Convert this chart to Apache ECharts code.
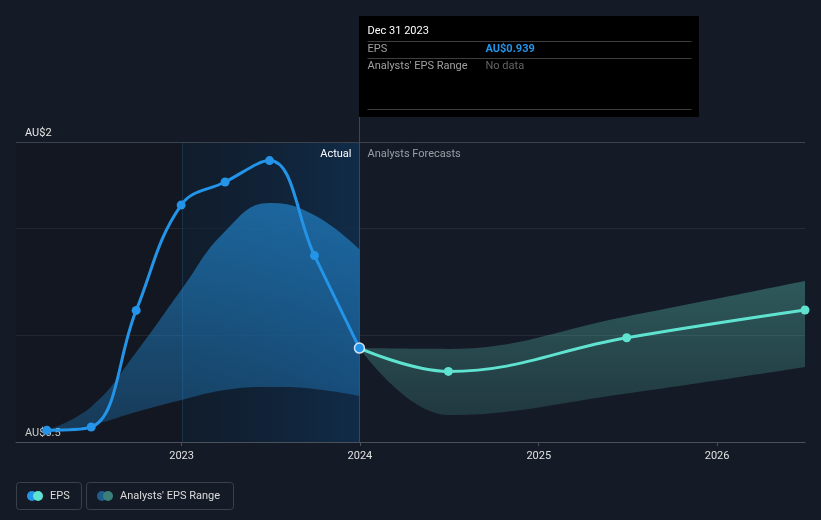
<!DOCTYPE html>
<html>
<head>
<meta charset="utf-8">
<script src="https://cdn.jsdelivr.net/npm/echarts@6/dist/echarts.min.js"></script>
<style>
html,body{margin:0;padding:0;background:#151b26;}
#chart{width:821px;height:520px;}
</style>
</head>
<body>
<div id="chart"></div>
<script>
(function () {
// ---- data ----
const actualDates = ['2022-03-31','2022-06-30','2022-09-30','2022-12-31','2023-03-31','2023-06-30','2023-09-30','2023-12-31'];
const actualEps = [0.555, 0.570, 1.115, 1.607, 1.715, 1.815, 1.371, 0.939];
const pastRangeLow = [0.555, 0.580, 0.640, 0.696, 0.743, 0.757, 0.748, 0.715];
const pastRangeHigh = [0.555, 0.665, 0.920, 1.210, 1.485, 1.617, 1.560, 1.400];
const forecastDates = ['2023-12-31','2024-06-30','2025-06-30','2026-06-30'];
const forecastEps = [0.939, 0.830, 0.987, 1.117];
const forecastLow = [0.939, 0.626, 0.727, 0.850];
const forecastHigh = [0.939, 0.935, 1.087, 1.252];
const yTickValues = [0.5, 1.902];
const yTickLabels = ['AU$0.5','AU$2'];
const xRange = ['2022-01-27','2026-06-30'];
const tooltipDate = 'Dec 31 2023';
const tooltipEps = 'AU$0.939';

const pd = s => Date.UTC(+s.slice(0,4), +s.slice(5,7) - 1, +s.slice(8,10));
const pairs = (d, v) => d.map((x, i) => [pd(x), v[i]]);
const diff = (d, hi, lo) => d.map((x, i) => [pd(x), +(hi[i] - lo[i]).toFixed(4)]);
const YEAR = 365 * 24 * 3600 * 1000;

const FONT = 'Roboto, "Noto Sans", sans-serif';
const BLUE = '#2394e8';
const AQUA = '#5fe3d0';

const chart = echarts.init(document.getElementById('chart'), null, {renderer: 'canvas', useUTC: true});

chart.setOption({
  useUTC: true,
  backgroundColor: '#151b26',
  animation: false,
  grid: {left: 16, right: 16, top: 142, bottom: 78, containLabel: false},
  xAxis: {
    type: 'time',
    min: pd(xRange[0]),
    max: pd(xRange[1]),
    minInterval: YEAR,
    axisLine: {lineStyle: {color: '#4b515b', width: 1}},
    axisTick: {show: true, length: 4, lineStyle: {color: '#4b515b'}},
    axisLabel: {
      color: '#e0e0e0', fontSize: 11, fontFamily: FONT, margin: 9,
      formatter: '{yyyy}', showMinLabel: false, showMaxLabel: false
    },
    splitLine: {show: false}
  },
  yAxis: {
    type: 'value',
    min: 0.5,
    max: 1.902,
    interval: 0.5,
    axisLine: {show: false},
    axisTick: {show: false},
    splitLine: {show: true, lineStyle: {color: '#262c36', width: 1}},
    axisLabel: {
      inside: true,
      customValues: yTickValues,
      color: '#e6e6e6', fontSize: 11, fontFamily: FONT,
      align: 'left', verticalAlign: 'bottom', margin: 9,
      padding: [0, 0, 3, 0],
      formatter: v => yTickLabels[yTickValues.indexOf(v)] || ''
    }
  },
  series: [
    {
      type: 'line', data: [], silent: true,
      markArea: {
        silent: true,
        data: [
          [{xAxis: pd(xRange[0]), itemStyle: {color: 'rgba(0,0,0,0.13)'}}, {xAxis: pd('2023-01-01')}],
          [{xAxis: pd('2023-01-01'), itemStyle: {color: new echarts.graphic.LinearGradient(0,0,1,0,[
              {offset: 0, color: 'rgba(12,30,48,0.55)'},
              {offset: 1, color: 'rgba(16,46,78,0.85)'}])}}, {xAxis: pd('2023-12-31')}]
        ]
      },
      markLine: {
        silent: true, symbol: 'none', label: {show: false},
        emphasis: {disabled: true},
        data: [
          {yAxis: 1.902, lineStyle: {color: '#3d434c', width: 1, type: 'solid'}}
        ]
      }
    },
    {
      type: 'line', stack: 'past', data: pairs(actualDates, pastRangeLow),
      smooth: 0.45, symbol: 'none', lineStyle: {width: 1, color: 'rgba(0,0,0,0)'}, silent: true
    },
    {
      type: 'line', stack: 'past', data: diff(actualDates, pastRangeHigh, pastRangeLow),
      smooth: 0.45, symbol: 'none', lineStyle: {width: 1, color: 'rgba(0,0,0,0)'}, silent: true,
      areaStyle: {color: new echarts.graphic.LinearGradient(0,0,0,1,[
        {offset: 0, color: 'rgba(35,140,215,0.64)'},
        {offset: 1, color: 'rgba(35,140,215,0.30)'}]), opacity: 1}
    },
    {
      type: 'line', stack: 'fc', data: pairs(forecastDates, forecastLow),
      smooth: 0.4, symbol: 'none', lineStyle: {width: 1, color: 'rgba(0,0,0,0)'}, silent: true
    },
    {
      type: 'line', stack: 'fc', data: diff(forecastDates, forecastHigh, forecastLow),
      smooth: 0.4, symbol: 'none', lineStyle: {width: 1, color: 'rgba(0,0,0,0)'}, silent: true,
      areaStyle: {color: new echarts.graphic.LinearGradient(0,0,0,1,[
        {offset: 0, color: 'rgba(80,175,165,0.42)'},
        {offset: 1, color: 'rgba(80,175,165,0.20)'}]), opacity: 1}
    },
    {
      type: 'line', data: pairs(forecastDates, forecastEps), smooth: 0.4,
      symbol: 'circle', symbolSize: 9, showSymbol: true,
      lineStyle: {color: AQUA, width: 3}, itemStyle: {color: AQUA}, z: 5
    },
    {
      type: 'line', data: pairs(actualDates, actualEps), smooth: 0.4,
      symbol: 'circle', symbolSize: 9, showSymbol: true,
      lineStyle: {color: BLUE, width: 3}, itemStyle: {color: BLUE}, z: 6
    },
    {
      type: 'scatter', data: [[pd(actualDates[actualDates.length-1]), actualEps[actualEps.length-1]]],
      symbol: 'circle', symbolSize: 10,
      itemStyle: {color: BLUE, borderColor: '#ffffff', borderWidth: 1.5}, z: 8
    }
  ]
});

const xd = Math.round(chart.convertToPixel({xAxisIndex: 0}, pd('2023-12-31'))) + 0.5;
const x23 = Math.round(chart.convertToPixel({xAxisIndex: 0}, pd('2023-01-01'))) + 0.5;
const yTop = chart.convertToPixel({yAxisIndex: 0}, 1.902);
const yBot = chart.convertToPixel({yAxisIndex: 0}, 0.5);

chart.setOption({
  graphic: [
    {type: 'line', shape: {x1: xd, y1: 117, x2: xd, y2: yBot}, style: {stroke: '#1d4f78', lineWidth: 1}, z: 1, silent: true},
    {type: 'line', shape: {x1: x23, y1: yTop, x2: x23, y2: yBot}, style: {stroke: 'rgba(40,90,130,0.35)', lineWidth: 1}, z: 1, silent: true},
    {type: 'rect', shape: {x: xd - 0.5, y: 16, width: 340, height: 101}, style: {fill: '#000000'}, z: 10},
    {type: 'text', x: xd + 8, y: 31, style: {text: tooltipDate, fill: '#ffffff', font: '11px ' + FONT, verticalAlign: 'middle'}, z: 11},
    {type: 'line', shape: {x1: xd + 8, y1: 41.5, x2: xd + 332, y2: 41.5}, style: {stroke: '#3e3e3e', lineWidth: 1}, z: 11},
    {type: 'text', x: xd + 8, y: 49, style: {text: 'EPS', fill: '#a0a0a0', font: '11px ' + FONT, verticalAlign: 'middle'}, z: 11},
    {type: 'text', x: xd + 126, y: 49, style: {text: tooltipEps, fill: BLUE, font: 'bold 11px ' + FONT, verticalAlign: 'middle'}, z: 11},
    {type: 'line', shape: {x1: xd + 8, y1: 58.5, x2: xd + 332, y2: 58.5}, style: {stroke: '#3e3e3e', lineWidth: 1}, z: 11},
    {type: 'text', x: xd + 8, y: 66, style: {text: "Analysts' EPS Range", fill: '#a0a0a0', font: '11px ' + FONT, verticalAlign: 'middle'}, z: 11},
    {type: 'text', x: xd + 126, y: 66, style: {text: 'No data', fill: '#646464', font: '11px ' + FONT, verticalAlign: 'middle'}, z: 11},
    {type: 'line', shape: {x1: xd + 8, y1: 109.5, x2: xd + 332, y2: 109.5}, style: {stroke: '#3e3e3e', lineWidth: 1}, z: 11},
    {type: 'text', x: xd - 8, y: yTop + 12, style: {text: 'Actual', fill: '#ffffff', font: '11px ' + FONT, align: 'right', verticalAlign: 'middle'}, z: 11},
    {type: 'text', x: xd + 8, y: yTop + 12, style: {text: 'Analysts Forecasts', fill: '#9a9ea5', font: '11px ' + FONT, align: 'left', verticalAlign: 'middle'}, z: 11},
    {type: 'rect', shape: {x: 16.5, y: 482.5, width: 65, height: 27, r: 3}, style: {fill: 'none', stroke: '#3b414b', lineWidth: 1}, z: 11},
    {type: 'circle', shape: {cx: 32, cy: 496, r: 5}, style: {fill: BLUE}, z: 11},
    {type: 'circle', shape: {cx: 38, cy: 496, r: 5}, style: {fill: AQUA}, z: 12},
    {type: 'text', x: 50, y: 496, style: {text: 'EPS', fill: '#dcdcdc', font: '11px ' + FONT, verticalAlign: 'middle'}, z: 11},
    {type: 'rect', shape: {x: 86.5, y: 482.5, width: 147, height: 27, r: 3}, style: {fill: 'none', stroke: '#3b414b', lineWidth: 1}, z: 11},
    {type: 'circle', shape: {cx: 102, cy: 496, r: 5}, style: {fill: '#1f5d8c'}, z: 11},
    {type: 'circle', shape: {cx: 108, cy: 496, r: 5}, style: {fill: '#3a8078'}, z: 12},
    {type: 'text', x: 120, y: 496, style: {text: "Analysts' EPS Range", fill: '#dcdcdc', font: '11px ' + FONT, verticalAlign: 'middle'}, z: 11}
  ]
});
})();
</script>
</body>
</html>
